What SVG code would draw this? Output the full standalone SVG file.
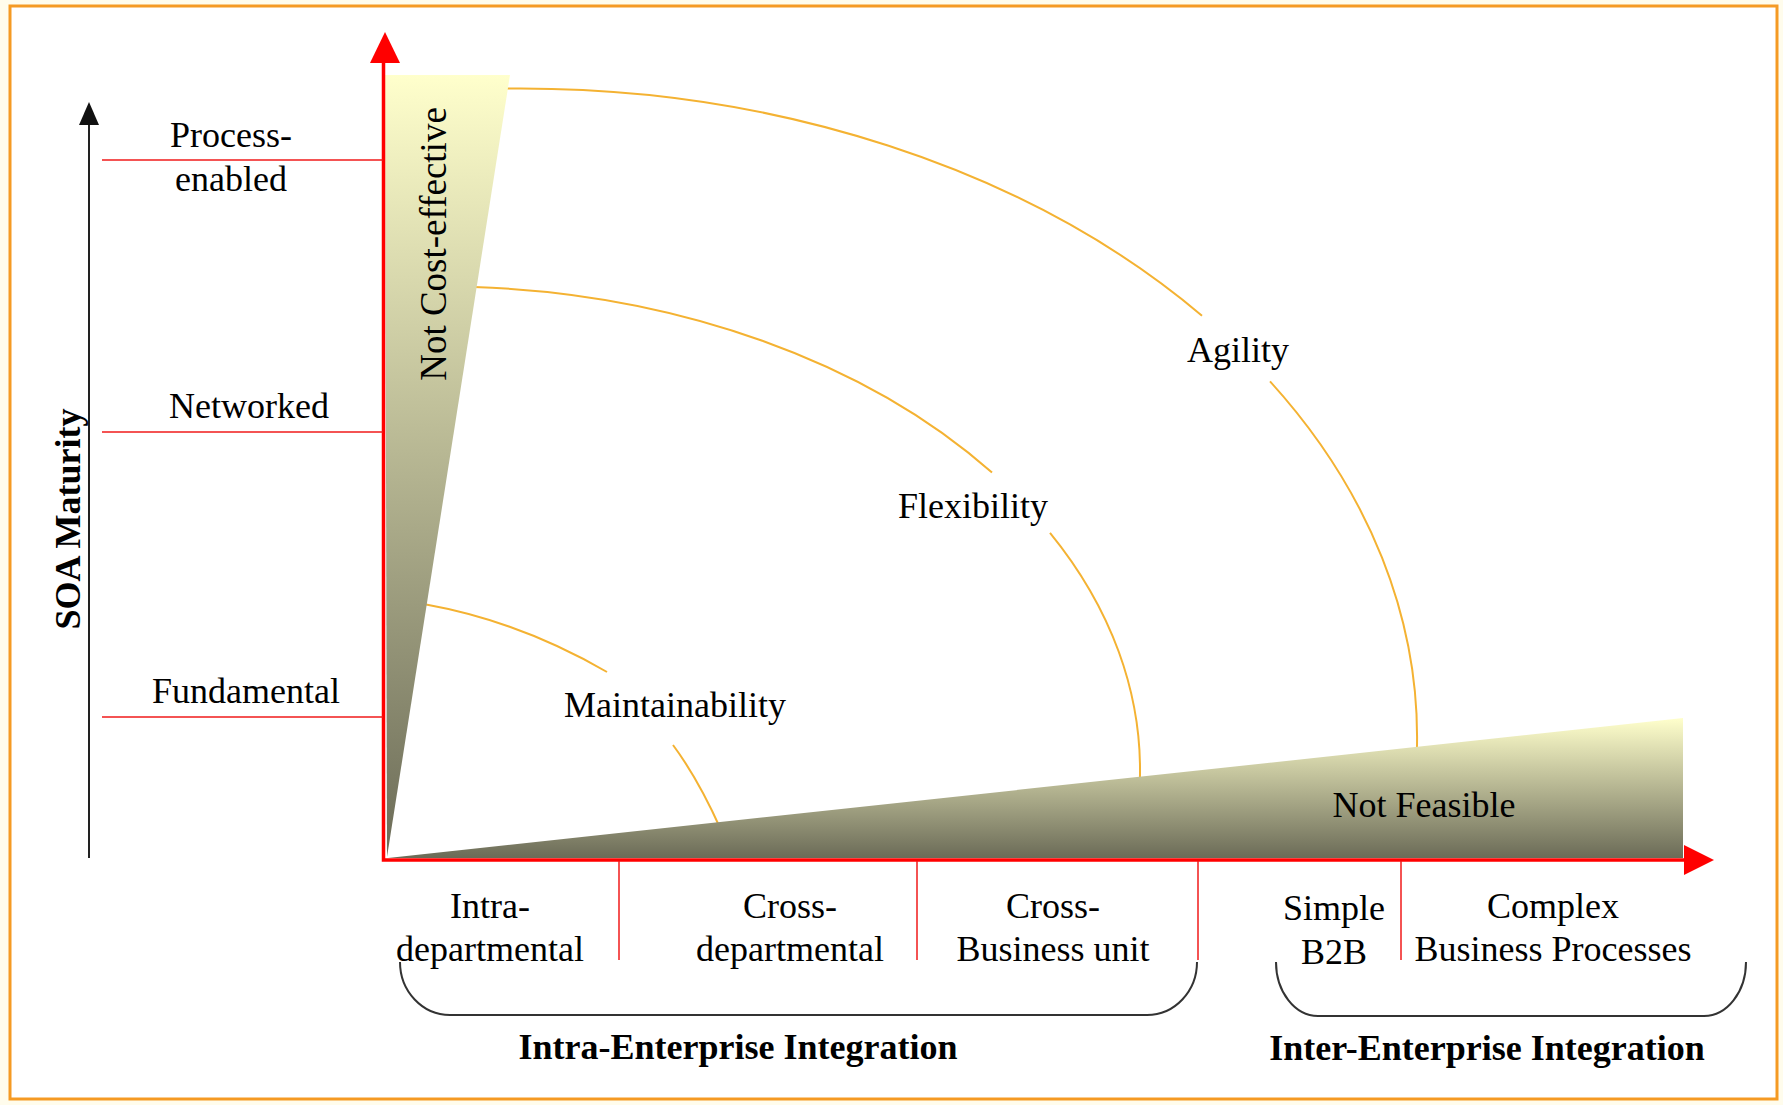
<svg xmlns="http://www.w3.org/2000/svg" width="1783" height="1105" viewBox="0 0 1783 1105">
<style>
  text { font-family: "Liberation Serif", "Times New Roman", serif; font-size: 36px; fill: #000; }
  .c { text-anchor: middle; }
  .b { font-weight: bold; }
  .arc { fill: none; stroke: #f4b232; stroke-width: 2; }
  .tick { stroke: #f01a1a; stroke-width: 1.5; fill: none; }
  .brace { fill: none; stroke: #333; stroke-width: 2; }
</style>
<defs>
  <linearGradient id="gv" x1="0" y1="0" x2="0" y2="1">
    <stop offset="0" stop-color="#ffffcc"/>
    <stop offset="1" stop-color="#6b6b57"/>
  </linearGradient>
</defs>
<rect x="0" y="0" width="1783" height="1105" fill="#fffcec"/>
<rect id="frame" x="10" y="6" width="1767" height="1093" fill="#ffffff" stroke="#f59a23" stroke-width="3"/>

<g id="connectors">
  <!-- quality arcs -->
  <path class="arc" d="M505,88.6 A897,648.5 0 0 1 1202,315.7"/>
  <path class="arc" d="M1270,381.3 A897,648.5 0 0 1 1416.9,750"/>
  <path class="arc" d="M474,287 A700,483.6 0 0 1 992,472.6"/>
  <path class="arc" d="M1050,532.8 A700,483.6 0 0 1 1139.9,779"/>
  <path class="arc" d="M426,604.5 Q519.5,621.3 607,672"/>
  <path class="arc" d="M673,745 Q698.5,779.4 721,830"/>
</g>

<g id="not-cost-effective">
  <polygon points="385,75 510,75 387,857" fill="url(#gv)"/>
  <text transform="translate(446,244) rotate(-90)" class="c" style="font-size:37px">Not Cost-effective</text>
</g>
<g id="not-feasible">
  <polygon points="388,858 1683,718 1683,858" fill="url(#gv)"/>
  <text x="1424" y="817" class="c">Not Feasible</text>
</g>

<g id="axes">
  <line x1="89" y1="858" x2="89" y2="118" stroke="#222" stroke-width="2"/>
  <polygon points="89,102 79,125 99,125" fill="#111"/>
  <text transform="translate(80,519) rotate(-90)" class="c b">SOA Maturity</text>
  <polyline points="383.5,60 383.5,860 1688,860" fill="none" stroke="#ff0000" stroke-width="3.5"/>
  <polygon points="385,32 370,63 400,63" fill="#ff0000"/>
  <polygon points="1714,860 1684,845 1684,875" fill="#ff0000"/>
</g>

<g id="maturity-levels">
  <line class="tick" x1="102" y1="160" x2="383" y2="160"/>
  <line class="tick" x1="102" y1="432" x2="383" y2="432"/>
  <line class="tick" x1="102" y1="717" x2="383" y2="717"/>
  <text x="231" y="147" class="c">Process-</text>
  <text x="231" y="191" class="c">enabled</text>
  <text x="249" y="418" class="c">Networked</text>
  <text x="246" y="703" class="c">Fundamental</text>
</g>

<g id="qualities">
  <text x="675" y="717" class="c">Maintainability</text>
  <text x="973" y="518" class="c">Flexibility</text>
  <text x="1238" y="362" class="c">Agility</text>
</g>

<g id="scopes">
  <line class="tick" x1="619" y1="861" x2="619" y2="960"/>
  <line class="tick" x1="917" y1="861" x2="917" y2="960"/>
  <line class="tick" x1="1198" y1="861" x2="1198" y2="960"/>
  <line class="tick" x1="1401" y1="861" x2="1401" y2="960"/>
  <text x="490" y="918" class="c">Intra-</text>
  <text x="490" y="961" class="c">departmental</text>
  <text x="790" y="918" class="c">Cross-</text>
  <text x="790" y="961" class="c">departmental</text>
  <text x="1053" y="918" class="c">Cross-</text>
  <text x="1053" y="961" class="c">Business unit</text>
  <text x="1334" y="920" class="c">Simple</text>
  <text x="1334" y="964" class="c">B2B</text>
  <text x="1553" y="918" class="c">Complex</text>
  <text x="1553" y="961" class="c">Business Processes</text>
</g>

<g id="intra-enterprise">
  <path class="brace" d="M400,962 A50,53 0 0 0 450,1015 L1147,1015 A50,53 0 0 0 1197,962"/>
  <text x="738" y="1059" class="c b">Intra-Enterprise Integration</text>
</g>
<g id="inter-enterprise">
  <path class="brace" d="M1276,962 A42,54 0 0 0 1318,1016 L1704,1016 A42,54 0 0 0 1746,962"/>
  <text x="1487" y="1060" class="c b">Inter-Enterprise Integration</text>
</g>
</svg>
